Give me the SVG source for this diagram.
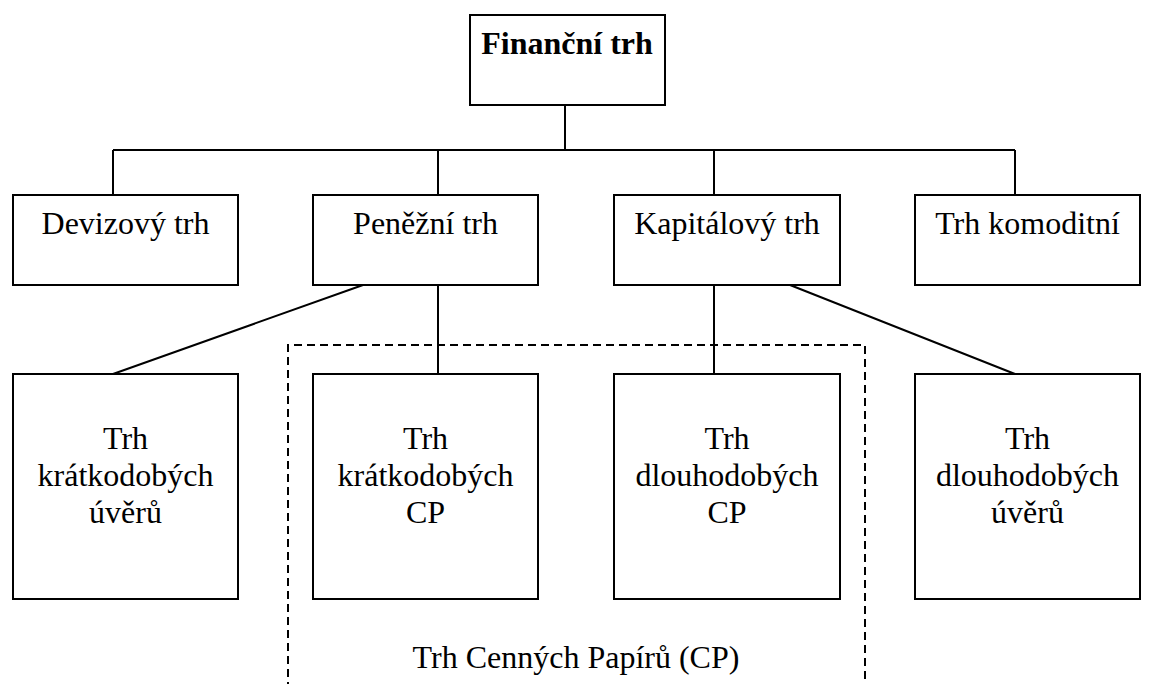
<svg xmlns="http://www.w3.org/2000/svg" width="1153" height="684" viewBox="0 0 1153 684">
<style>
.box{fill:#fff;stroke:#000;stroke-width:2}
.ln{fill:none;stroke:#000;stroke-width:2}
.dash{fill:none;stroke:#000;stroke-width:2;stroke-dasharray:8 5}
text{font-family:"Liberation Serif","Times New Roman",serif;font-size:32px;fill:#000;text-anchor:middle}
.b{font-weight:bold}
</style>
<rect width="1153" height="684" fill="#fff"/>
<g id="group-cp">
<path class="dash" d="M288,690 V345 H865 V690"/>
<text x="576" y="668">Trh Cenných Papírů (CP)</text>
</g>
<g id="connectors">
<path class="ln" d="M565,105 V150 M113,150 H1015 M113,150 V195 M438,150 V195 M714,150 V195 M1015,150 V195"/>
<path class="ln" d="M363,285 L113,374 M438,285 V374 M714,285 V374 M790,285 L1015,374"/>
</g>
<g id="financni-trh">
<rect class="box" x="470" y="15" width="195" height="90"/>
<text class="b" x="567" y="54">Finanční trh</text>
</g>
<g id="devizovy-trh">
<rect class="box" x="13" y="195" width="225" height="90"/>
<text x="125.5" y="234">Devizový trh</text>
</g>
<g id="penezni-trh">
<rect class="box" x="313" y="195" width="225" height="90"/>
<text x="425.5" y="234">Peněžní trh</text>
</g>
<g id="kapitalovy-trh">
<rect class="box" x="614" y="195" width="226" height="90"/>
<text x="727" y="234">Kapitálový trh</text>
</g>
<g id="trh-komoditni">
<rect class="box" x="915" y="195" width="225" height="90"/>
<text x="1027.5" y="234">Trh komoditní</text>
</g>
<g id="kratkodobe-uvery">
<rect class="box" x="13" y="374" width="225" height="225"/>
<text x="125.5" y="449">Trh</text>
<text x="125.5" y="486">krátkodobých</text>
<text x="125.5" y="523">úvěrů</text>
</g>
<g id="kratkodobe-cp">
<rect class="box" x="313" y="374" width="225" height="225"/>
<text x="425.5" y="449">Trh</text>
<text x="425.5" y="486">krátkodobých</text>
<text x="425.5" y="523">CP</text>
</g>
<g id="dlouhodobe-cp">
<rect class="box" x="614" y="374" width="226" height="225"/>
<text x="727" y="449">Trh</text>
<text x="727" y="486">dlouhodobých</text>
<text x="727" y="523">CP</text>
</g>
<g id="dlouhodobe-uvery">
<rect class="box" x="915" y="374" width="225" height="225"/>
<text x="1027.5" y="449">Trh</text>
<text x="1027.5" y="486">dlouhodobých</text>
<text x="1027.5" y="523">úvěrů</text>
</g>
</svg>
